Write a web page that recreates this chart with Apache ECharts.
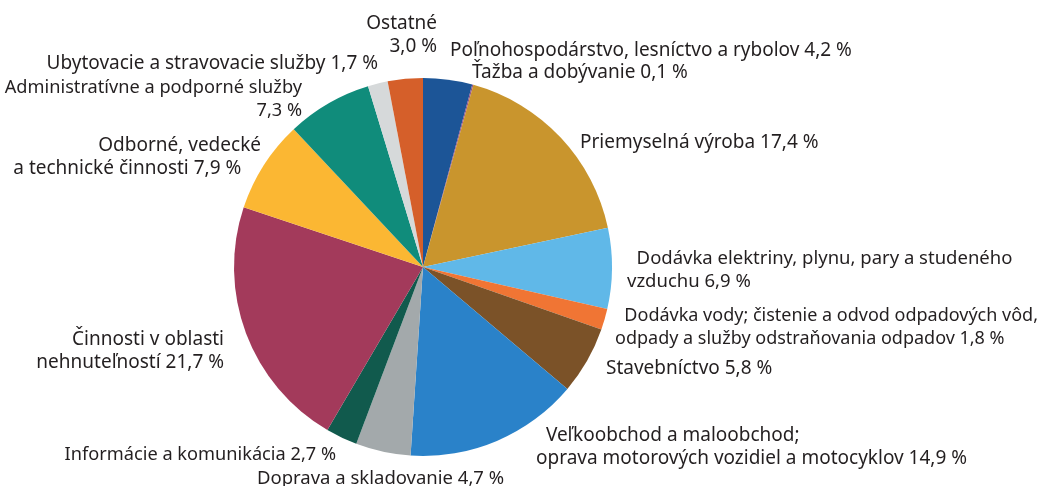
<!DOCTYPE html>
<html>
<head>
<meta charset="utf-8">
<script src="https://cdn.jsdelivr.net/npm/echarts@6/dist/echarts.min.js"></script>
<style>
  html, body { margin: 0; padding: 0; background: #fff; }
  #chart { width: 1048px; height: 486px; }
</style>
</head>
<body>
<div id="chart"></div>
<script>
// odvetvia, podiely v %
var names = [
  'Poľnohospodárstvo, lesníctvo a rybolov 4,2 %',
  'Ťažba a dobývanie 0,1 %',
  'Priemyselná výroba 17,4 %',
  '  Dodávka elektriny, plynu, pary a studeného\nvzduchu 6,9 %',
  '  Dodávka vody; čistenie a odvod odpadových vôd,\nodpady a služby odstraňovania odpadov 1,8 %',
  'Stavebníctvo 5,8 %',
  '  Veľkoobchod a maloobchod;\noprava motorových vozidiel a motocyklov 14,9 %',
  'Doprava a skladovanie 4,7 %',
  'Informácie a komunikácia 2,7 %',
  'Činnosti v oblasti\nnehnuteľností 21,7 %',
  'Odborné, vedecké\na technické činnosti 7,9 %    ',
  'Administratívne a podporné služby\n7,3 %',
  'Ubytovacie a stravovacie služby 1,7 %',
  'Ostatné\n3,0 %'
];
var values = [4.2, 0.1, 17.4, 6.9, 1.8, 5.8, 14.9, 4.7, 2.7, 21.7, 7.9, 7.3, 1.7, 3.0];
var colors = ['#1c5597', '#8b4a8c', '#c9952d', '#60b8e8', '#f07534', '#7b5228', '#2a82c9',
              '#a3a9ab', '#115a4d', '#a33a5b', '#fbb733', '#108c7b', '#d6d9da', '#d55f2a'];

// umiestnenie popisov: [x, y horného okraja, zarovnanie, veľkosť písma]
var labelPos = [
  [450, 39, 'left', 19],
  [472, 61, 'left', 19],
  [580, 131, 'left', 19],
  [627, 247, 'left', 18.5],
  [615, 304, 'left', 18],
  [606, 357, 'left', 19],
  [536, 424, 'left', 19],
  [257, 467, 'left', 18.5],
  [336, 443, 'right', 18.2],
  [224, 328, 'right', 19],
  [261, 134, 'right', 19],
  [302, 76, 'right', 18.2],
  [378, 52, 'right', 19],
  [437, 12, 'right', 19]
];

var pieData = [];
for (var i = 0; i < values.length; i++) {
  pieData.push({
    name: names[i],
    value: values[i],
    itemStyle: { color: colors[i] },
    label: { fontSize: labelPos[i][3] }
  });
}

var myChart = echarts.init(document.getElementById('chart'));
var option = {
  animation: false,
  series: [{
    type: 'pie',
    center: [423, 267],
    radius: 189,
    startAngle: 90,
    clockwise: true,
    avoidLabelOverlap: false,
    itemStyle: { borderWidth: 0 },
    label: {
      show: true,
      position: 'outside',
      formatter: '{b}',
      color: '#231f20',
      fontFamily: 'Noto Sans',
      fontSize: 19,
      lineHeight: 23
    },
    labelLine: { show: false },
    labelLayout: function (params) {
      var p = labelPos[params.dataIndex];
      return { x: p[0], y: p[1], align: p[2], verticalAlign: 'top', hideOverlap: false };
    },
    data: pieData
  }]
};
myChart.setOption(option);
</script>
</body>
</html>
